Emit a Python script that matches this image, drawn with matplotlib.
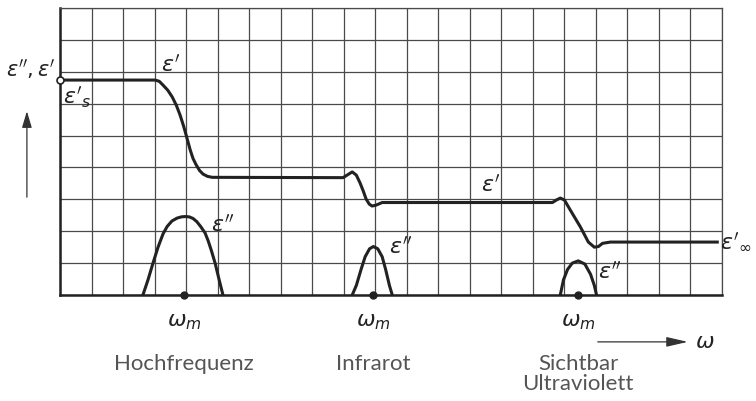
import matplotlib
matplotlib.use("Agg")
import matplotlib.pyplot as plt

# grid of squares (21 x 9)
n_cols = 21
n_rows = 9

# eps' curve, read point by point (grid units)
eps1_x = [0, 3.02, 3.15, 3.27, 3.42, 3.56, 3.69, 3.81, 3.92, 4.0, 4.13, 4.22, 4.32, 4.43, 4.54, 4.68, 4.83,
          8.98, 9.14, 9.27, 9.40, 9.52, 9.62, 9.71, 9.81, 9.90, 10.03, 10.22,
          15.62, 15.75, 15.87, 16.0, 16.19, 16.51, 16.76, 16.95, 17.08, 17.21, 17.46, 20.85]
eps1_y = [6.74, 6.74, 6.70, 6.58, 6.42, 6.21, 5.95, 5.64, 5.30, 5.02, 4.55, 4.28, 4.08, 3.90, 3.79, 3.72, 3.69,
          3.68, 3.78, 3.86, 3.76, 3.51, 3.26, 3.01, 2.85, 2.79, 2.82, 2.90,
          2.90, 2.98, 3.04, 2.98, 2.66, 2.13, 1.66, 1.50, 1.52, 1.62, 1.66, 1.66]

# eps'' absorption peaks
hf_x = [2.63, 2.79, 2.95, 3.11, 3.27, 3.40, 3.55, 3.71, 3.85, 3.97, 4.10, 4.22, 4.34, 4.46, 4.60, 4.70, 4.80, 4.92, 5.05, 5.17]
hf_y = [0, 0.47, 1.0, 1.50, 1.92, 2.15, 2.32, 2.41, 2.45, 2.46, 2.45, 2.40, 2.30, 2.15, 1.95, 1.70, 1.40, 1.0, 0.47, 0]
ir_x = [9.27, 9.40, 9.55, 9.68, 9.82, 9.94, 10.08, 10.22, 10.33, 10.45, 10.54]
ir_y = [0, 0.30, 0.80, 1.20, 1.45, 1.52, 1.45, 1.20, 0.80, 0.30, 0]
vis_x = [15.87, 15.97, 16.10, 16.25, 16.44, 16.65, 16.83, 16.95, 17.02]
vis_y = [0, 0.47, 0.80, 1.00, 1.07, 0.97, 0.65, 0.30, 0]

omega_m = [3.94, 9.94, 16.44]
regions = ["Hochfrequenz", "Infrarot", "Sichtbar\nUltraviolett"]
eps_s = 6.74

fig = plt.figure(figsize=(7.56, 4.01), dpi=100)
ax = fig.add_axes([60/756, (401-295)/401, 662/756, 287/401])
ax.set_xlim(0, n_cols)
ax.set_ylim(0, n_rows)
ax.set_xticks(range(n_cols+1))
ax.set_yticks(range(n_rows+1))
ax.tick_params(length=0, labelbottom=False, labelleft=False)
ax.grid(True, color="#4a4a4a", lw=0.9)
for s in ["top", "right"]:
    ax.spines[s].set_color("#4a4a4a")
    ax.spines[s].set_linewidth(0.9)
for s in ["left", "bottom"]:
    ax.spines[s].set_color("#222222")
    ax.spines[s].set_linewidth(1.8)

ink = "#222222"
ax.plot(eps1_x, eps1_y, color=ink, lw=2.2, solid_joinstyle="round", zorder=3)
for px, py in [(hf_x, hf_y), (ir_x, ir_y), (vis_x, vis_y)]:
    ax.plot(px, py, color=ink, lw=2.2, solid_joinstyle="round", zorder=3)
ax.plot([0], [eps_s], "o", ms=5, mfc="white", mec=ink, mew=1.2, clip_on=False, zorder=4)
ax.plot(omega_m, [0]*3, "o", ms=5, color=ink, clip_on=False, zorder=4)

fs = 16
ax.text(-0.15, 7.1, r"$\varepsilon'',\varepsilon'$", ha="right", va="center", fontsize=fs-1, color=ink)
ax.text(0.1, 6.2, r"$\varepsilon'_s$", ha="left", va="center", fontsize=fs, color=ink)
ax.text(3.5, 7.2, r"$\varepsilon'$", ha="center", va="center", fontsize=fs, color=ink)
ax.text(13.65, 3.45, r"$\varepsilon'$", ha="center", va="center", fontsize=fs, color=ink)
ax.text(20.95, 1.66, r"$\varepsilon'_\infty$", ha="left", va="center", fontsize=fs, color=ink, clip_on=False)
ax.text(4.79, 2.2, r"$\varepsilon''$", ha="left", va="center", fontsize=fs, color=ink)
ax.text(10.44, 1.5, r"$\varepsilon''$", ha="left", va="center", fontsize=fs, color=ink)
ax.text(17.07, 0.72, r"$\varepsilon''$", ha="left", va="center", fontsize=fs, color=ink)

for xm, name in zip(omega_m, regions):
    ax.text(xm, -0.85, r"$\omega_m$", ha="center", va="center", fontsize=fs, color=ink)
    ax.text(xm, -1.85, name, ha="center", va="top", fontsize=16, color="#555555",
            family="Lato", linespacing=1.0)

# axis arrows
ax.annotate("", xy=(-1.05, 5.85), xytext=(-1.05, 2.98), annotation_clip=False,
            arrowprops=dict(arrowstyle="-|>,head_length=1.0,head_width=0.3", color="#333333", lw=0.9))
ax.annotate("", xy=(20.0, -1.47), xytext=(16.97, -1.47), annotation_clip=False,
            arrowprops=dict(arrowstyle="-|>,head_length=1.3,head_width=0.3", color="#333333", lw=0.9))
ax.text(20.15, -1.47, r"$\omega$", ha="left", va="center", fontsize=fs, color=ink)

fig.savefig("out.png", dpi=100, facecolor="white")
